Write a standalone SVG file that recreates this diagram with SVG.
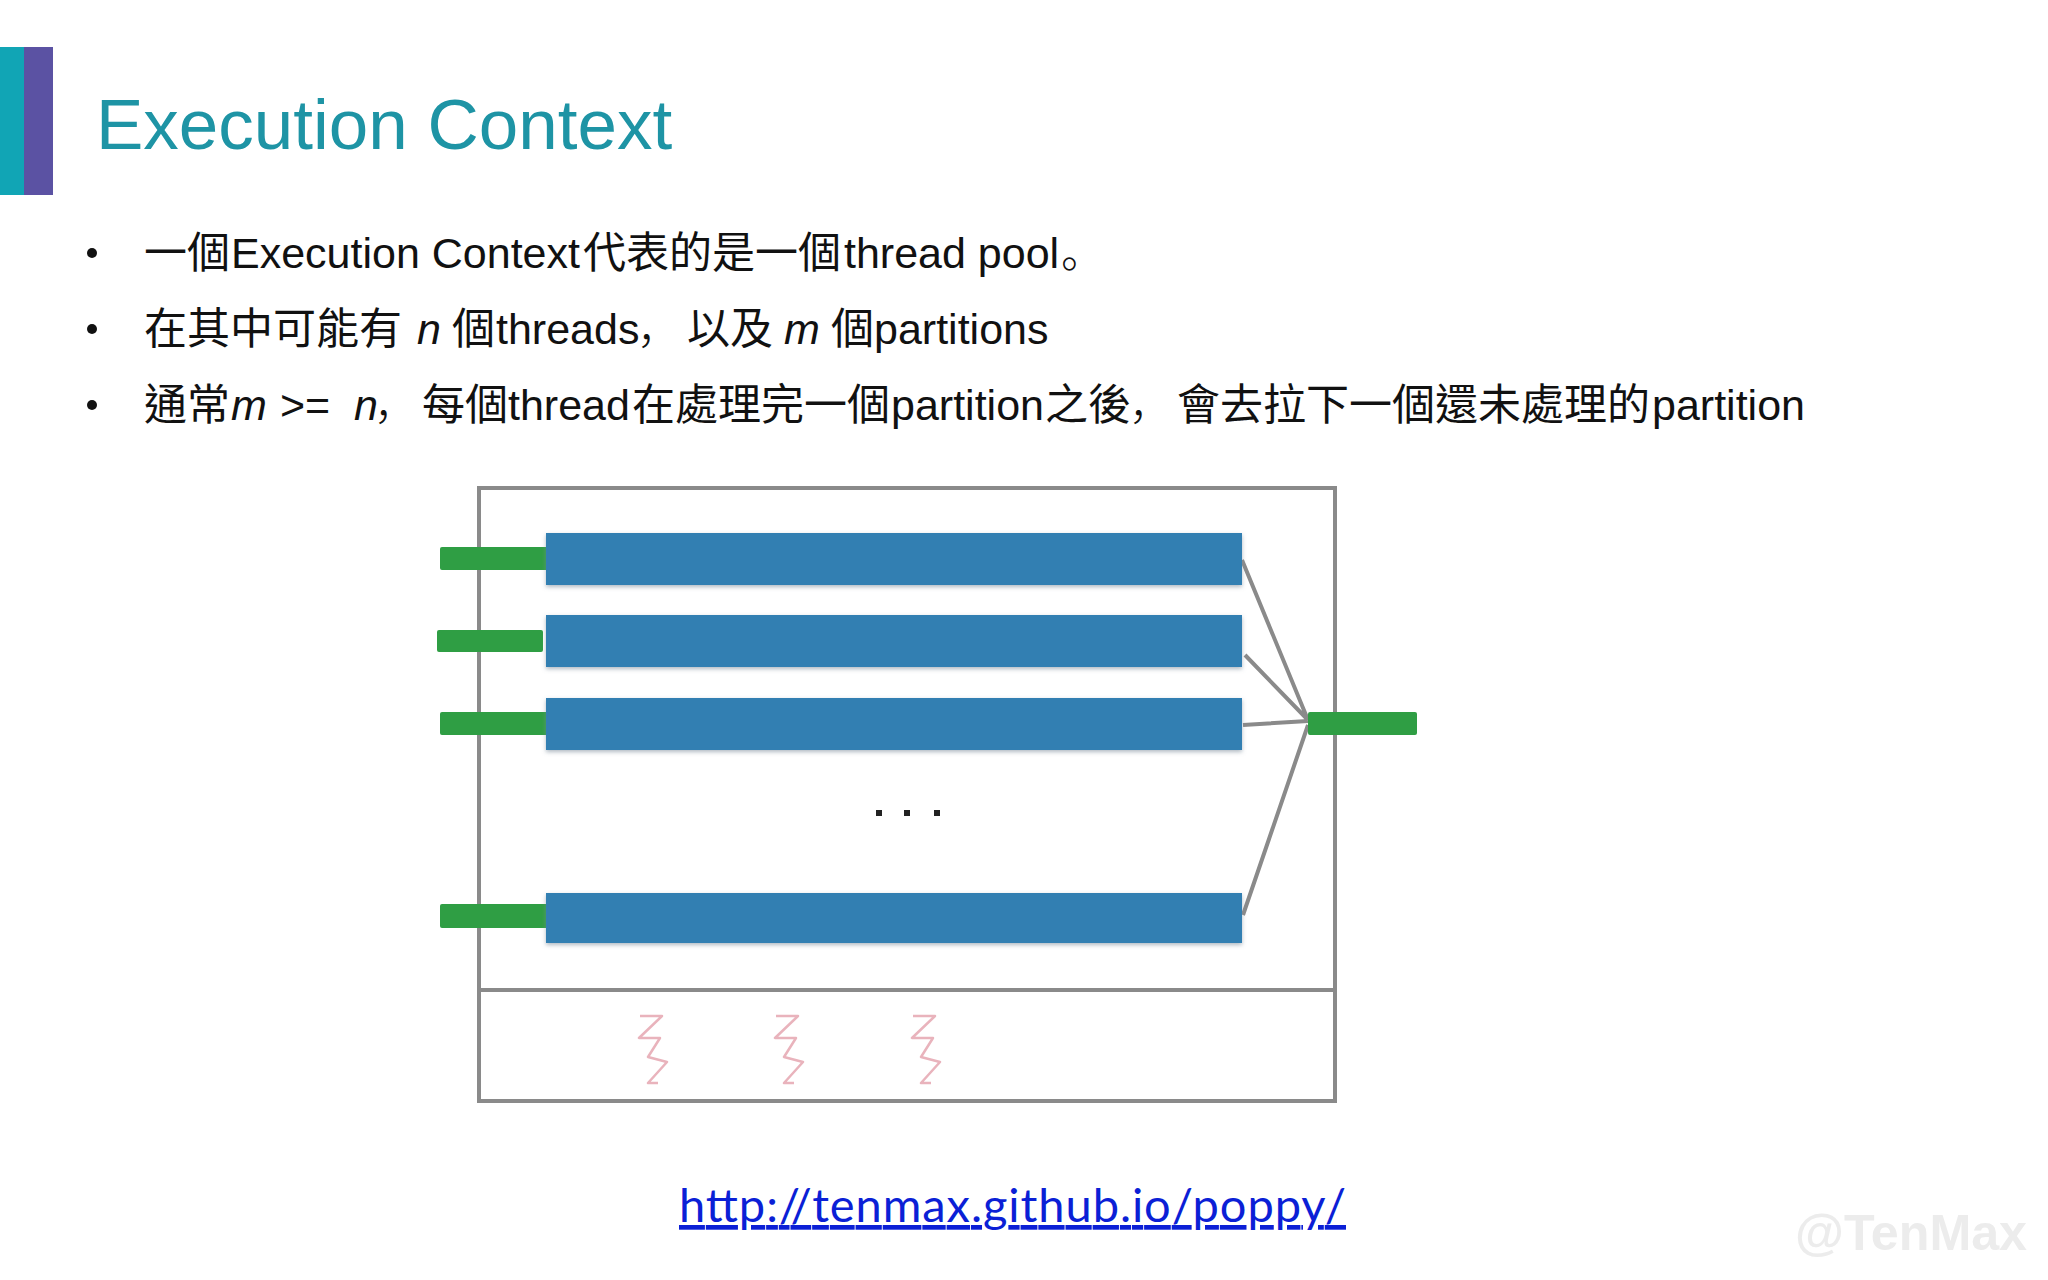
<svg xmlns="http://www.w3.org/2000/svg" width="2048" height="1280" viewBox="0 0 2048 1280">
<style>
.t{font-family:"Liberation Sans","Noto Sans CJK TC",sans-serif;font-size:43px;fill:#111}
.i{font-style:italic}
.p{font-family:"Noto Sans CJK SC",sans-serif;font-weight:300}
.b{fill:#337fb2;filter:url(#s)}
.g{fill:#2f9e44}
.l{fill:none;stroke:#8a8a8a;stroke-width:4}
.z{fill:none;stroke:#e9b3bc;stroke-width:2.5;stroke-linejoin:round}
</style>
<defs>
<filter id="s" x="-2%" y="-20%" width="104%" height="150%"><feDropShadow dx="0" dy="2" stdDeviation="2" flood-color="#7a8a9a" flood-opacity=".6"/></filter>
</defs>
<rect width="2048" height="1280" fill="#fff"/>
<g id="accent"><rect x="0" y="47" width="24" height="148" fill="#11a5b5"/><rect x="24" y="47" width="29" height="148" fill="#5b52a3"/></g>
<text id="title" x="96" y="149" font-family="Liberation Sans,sans-serif" font-size="71" fill="#1e94a5">Execution Context</text>
<g id="bullets">
<circle cx="92" cy="253" r="5" fill="#111"/><circle cx="92" cy="329" r="5" fill="#111"/><circle cx="92" cy="405" r="5" fill="#111"/>
<text class="t" y="268"><tspan x="144">一個</tspan><tspan x="231">Execution Context</tspan><tspan x="583">代表的是一個</tspan><tspan x="844">thread pool</tspan><tspan class="p" x="1061">。</tspan></text>
<text class="t" y="344"><tspan x="144">在其中可能有</tspan><tspan class="i" x="417">n</tspan><tspan x="452">個</tspan><tspan x="496">threads</tspan><tspan class="p" x="637">，</tspan><tspan x="687">以及</tspan><tspan class="i" x="784">m</tspan><tspan x="831">個</tspan><tspan x="874">partitions</tspan></text>
<text class="t" y="420"><tspan x="144">通常</tspan><tspan class="i" x="231">m</tspan><tspan x="280">&gt;=</tspan><tspan class="i" x="354">n</tspan><tspan class="p" x="374">，</tspan><tspan x="422">每個</tspan><tspan x="508">thread</tspan><tspan x="632">在處理完一個</tspan><tspan x="891">partition</tspan><tspan x="1045">之後</tspan><tspan class="p" x="1129">，</tspan><tspan x="1177">會去拉下一個還未處理的</tspan><tspan x="1652">partition</tspan></text>
</g>
<g id="pool-box"><rect class="l" x="479" y="488" width="856" height="613"/><line class="l" x1="479" y1="990" x2="1335" y2="990"/></g>
<g id="connectors">
<path class="l" d="M1242 560L1308 720M1245 655L1308 720M1243 725L1308 721M1243 915L1308 725"/>
</g>
<g id="partition-1"><rect class="g" x="440" y="547" width="110" height="23" rx="2"/><rect class="b" x="546" y="533" width="696" height="52"/></g>
<g id="partition-2"><rect class="g" x="437" y="630" width="106" height="22" rx="2"/><rect class="b" x="546" y="615" width="696" height="52"/></g>
<g id="partition-3"><rect class="g" x="440" y="712" width="110" height="23" rx="2"/><rect class="b" x="546" y="698" width="696" height="52"/></g>
<g id="partition-4"><rect class="g" x="440" y="904" width="110" height="24" rx="2"/><rect class="b" x="546" y="893" width="696" height="50"/></g>
<g id="output"><rect class="g" x="1308" y="712" width="109" height="23" rx="2"/></g>
<g id="ellipsis" fill="#222"><rect x="876" y="810" width="6" height="6"/><rect x="904" y="810" width="6" height="6"/><rect x="934" y="810" width="6" height="6"/></g>
<g id="threads">
<path class="z" d="M640 1016H662L639 1038H660L648 1057L667 1062L648 1083H658"/>
<path class="z" d="M776 1016H798L775 1038H796L784 1057L803 1062L784 1083H794"/>
<path class="z" d="M913 1016H935L912 1038H933L921 1057L940 1062L921 1083H931"/>
</g>
<text id="link" x="679" y="1222" font-family="Lato,sans-serif" font-size="47" fill="#0b1fd6" text-decoration="underline" textLength="667" lengthAdjust="spacing">http://tenmax.github.io/poppy/</text>
<text id="watermark" x="1795" y="1250" font-family="Liberation Sans,sans-serif" font-weight="700" font-size="50" fill="#ececec" textLength="232" lengthAdjust="spacingAndGlyphs">@TenMax</text>
</svg>
